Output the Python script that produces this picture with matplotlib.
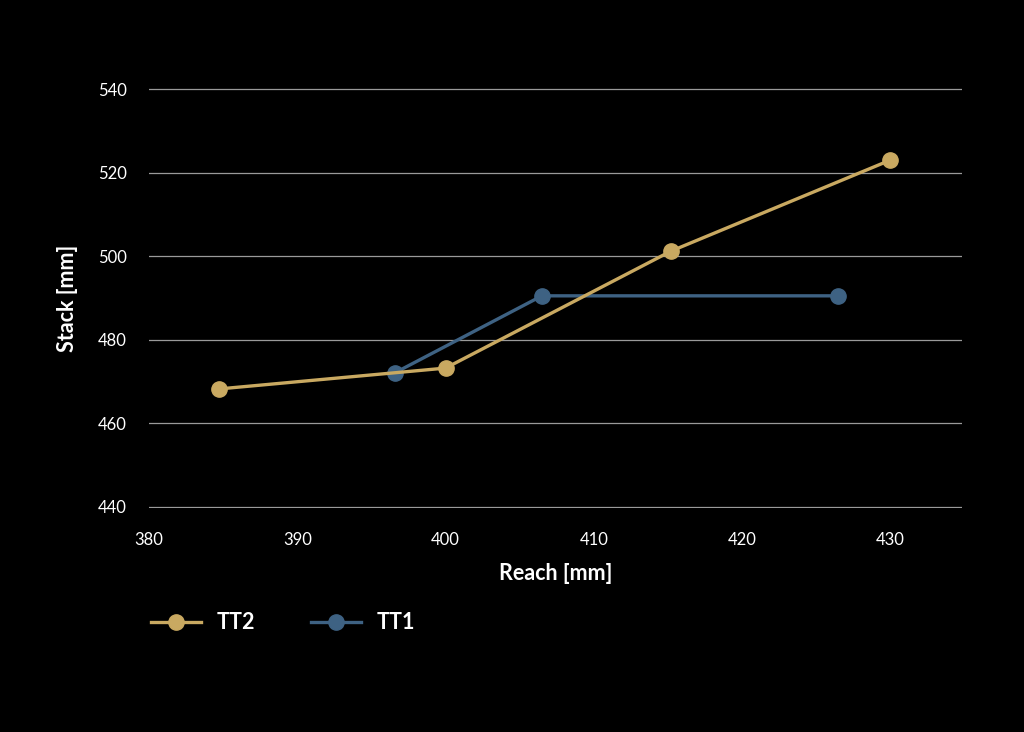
import matplotlib
matplotlib.use("Agg")
from matplotlib import pyplot as plt

# data
tt2_reach = [384.7, 400.0, 415.2, 430.0]
tt2_stack = [468.2, 473.2, 501.2, 523.0]
tt1_reach = [396.6, 406.5, 426.5]
tt1_stack = [472.1, 490.5, 490.5]

gold = '#c9a961'
blue = '#3e6283'

plt.rcParams['font.family'] = ['Lato', 'DejaVu Sans']

fig = plt.figure(figsize=(10.24, 7.32), dpi=100, facecolor='black')
ax = fig.add_axes([0.1455, 0.306, 0.7935, 0.574])
ax.set_facecolor('black')

ax.plot(tt2_reach, tt2_stack, '-o', color=gold, lw=2.4, ms=11, label='TT2', zorder=3)
ax.plot(tt1_reach, tt1_stack, '-o', color=blue, lw=2.4, ms=11, label='TT1', zorder=2)

ax.set_xlim(380, 434.8)
ax.set_ylim(439.7, 540.3)
ax.set_xticks([380, 390, 400, 410, 420, 430])
ax.set_yticks([440, 460, 480, 500, 520, 540])
ax.grid(axis='y', color='#9a9a9a', lw=0.9)
ax.set_axisbelow(True)
for s in ax.spines.values():
    s.set_visible(False)
ax.tick_params(length=0, colors='white', labelsize=12)
ax.tick_params(axis='x', pad=17)
ax.tick_params(axis='y', pad=16)

ax.set_xlabel('Reach [mm]', color='white', fontsize=15.5, fontweight='bold', labelpad=11)
ax.set_ylabel('Stack [mm]', color='white', fontsize=15.5, fontweight='bold', labelpad=14)

fig.legend(loc='center left', bbox_to_anchor=(0.1475, 0.149), ncol=2, frameon=False,
           labelcolor='white', prop={'weight': 'bold', 'size': 15.5},
           borderpad=0, borderaxespad=0,
           handlelength=2.3, columnspacing=2.6, handletextpad=0.75)

fig.savefig('out.png', dpi=100, facecolor='black')
